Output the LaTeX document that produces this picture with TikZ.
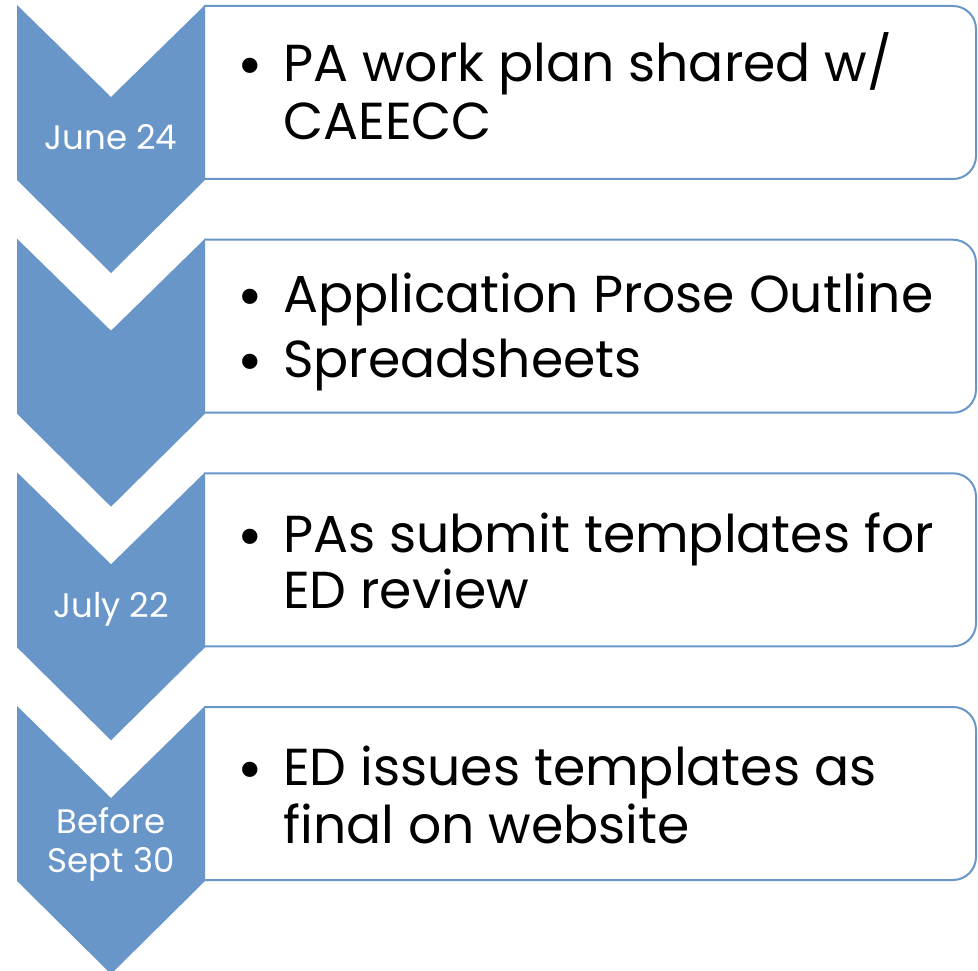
\documentclass[tikz,border=0pt]{standalone}
\usepackage{fontspec}
\setmainfont{Poppins}
\definecolor{cblue}{RGB}{104,150,200}
\tikzset{
  chev/.style={fill=cblue, draw=none},
  tbox/.style={draw=cblue, line width=2pt, fill=white, rounded corners=23pt},
  bigtxt/.style={anchor=base west, inner sep=0pt, font=\fontsize{52}{58}\selectfont, text=black},
  bul/.style={anchor=base, inner sep=0pt, font=\fontsize{62}{64}\selectfont, text=black},
  datetxt/.style={anchor=base, inner sep=0pt, font=\fontsize{34}{39}\selectfont, text=white},
}
\newcommand{\chevron}[1]{%
  \fill[chev] (17,#1) -- (111,#1+92) -- (205,#1) -- (205,#1+175) -- (111,#1+268) -- (17,#1+175) -- cycle;}
\newcommand{\stepbox}[1]{%
  \draw[tbox] (150,#1+1) -- (976,#1+1) -- (976,#1+174) -- (150,#1+174) -- cycle;}
\newcommand{\bulletmark}{\smash{•}}
\begin{document}
\begin{tikzpicture}[x=1pt,y=-1pt]
\useasboundingbox (0,0) rectangle (978,971);
\clip (0,0) rectangle (978,971);
% boxes
\stepbox{5}
\stepbox{238.7}
\stepbox{472.3}
\stepbox{706}
\fill[white] (0,0) rectangle (204,971);
% chevrons
\chevron{5}
\chevron{238.7}
\chevron{472.3}
\chevron{706}
% dates
\node[datetxt] (d1) at (111,150) {June 24};
\node[datetxt] (d3) at (111,617) {July 22};
\node[datetxt] (d4a) at (111,833) {Before};
\node[datetxt] (d4b) at (111,872) {Sept 30};
% box 1
\node[bul] (b1) at (250,87) {\bulletmark};
\node[bigtxt] (t1a) at (283,82) {PA work plan shared w/};
\node[bigtxt] (t1b) at (283,140) {CAEECC};
% box 2
\node[bul] (b2a) at (250,317) {\bulletmark};
\node[bigtxt] (t2a) at (283,312) {Application Prose Outline};
\node[bul] (b2b) at (250,382) {\bulletmark};
\node[bigtxt] (t2b) at (283,377) {Spreadsheets};
% box 3
\node[bul] (b3) at (250,557) {\bulletmark};
\node[bigtxt] (t3a) at (283,552) {PAs submit templates for};
\node[bigtxt] (t3b) at (283,608) {ED review};
% box 4
\node[bul] (b4) at (250,790) {\bulletmark};
\node[bigtxt] (t4a) at (283,785) {ED issues templates as};
\node[bigtxt] (t4b) at (283,843) {final on website};
\end{tikzpicture}
\end{document}
